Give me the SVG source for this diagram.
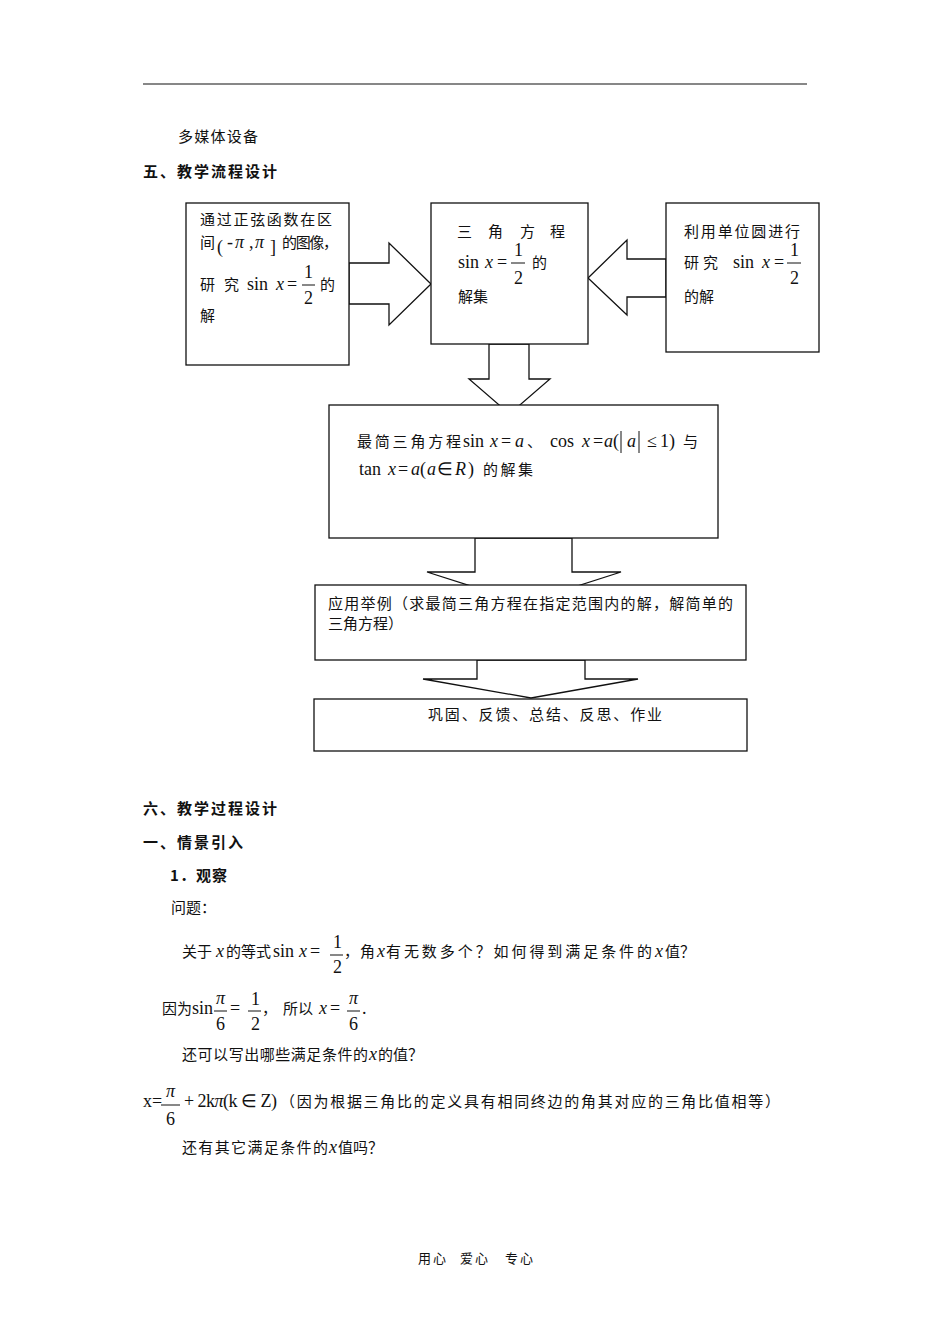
<svg xmlns="http://www.w3.org/2000/svg" width="950" height="1344" viewBox="0 0 950 1344">
<style>
.bg{fill:#fff}
.box{fill:#fff;stroke:#111;stroke-width:1.3}
.arrow{fill:#fff;stroke:#111;stroke-width:1.3;stroke-linejoin:miter}
.rule{stroke:#111;stroke-width:1.2}
.bar{stroke:#111;stroke-width:1}
text{fill:#111}
.cj{font-family:"Noto Sans CJK SC","Liberation Serif",sans-serif;font-size:15px}
.hd{font-family:"Noto Sans CJK SC",sans-serif;font-size:15px;font-weight:bold}
.m{font-family:"Liberation Serif","Times New Roman",serif;font-size:18px}
.i{font-style:italic}
.ft{font-family:"Noto Sans CJK SC",sans-serif;font-size:13px}
</style>
<rect class="bg" x="0" y="0" width="950" height="1344"/>
<line class="rule" x1="143" y1="84" x2="807" y2="84"/>

<g id="header">
<text class="cj" x="178" y="142" textLength="80" lengthAdjust="spacing">多媒体设备</text>
<text class="hd" x="143" y="177" textLength="134" lengthAdjust="spacing">五、教学流程设计</text>
</g>

<g id="connectors">
<polygon class="arrow" points="349,263 389,263 389,243 431,284 389,325 389,304 349,304"/>
<polygon class="arrow" points="666,259 627,259 627,240 588,278 627,315 627,297 666,297"/>
<polygon class="arrow" points="489,344 489,379 469,379 509.5,414 550,379 529,379 529,344"/>
<polygon class="arrow" points="475,538 475,572 427,572 524,603 621,572 572,572 572,538"/>
<polygon class="arrow" points="477,660 477,679 423,679 531,698 638,679 585,679 585,660"/>
</g>

<g id="node-graph">
<rect class="box" x="186" y="203" width="163" height="162"/>
<text class="cj" x="200" y="225" textLength="132" lengthAdjust="spacing">通过正弦函数在区</text>
<text class="cj" x="200" y="248">间</text>
<text class="m" x="217" y="253" font-size="27">(</text>
<text class="m" x="227" y="248">-</text>
<text class="m i" x="235" y="248">π</text>
<text class="m" x="249" y="248">,</text>
<text class="m i" x="255" y="248">π</text>
<text class="m" x="270" y="253" font-size="27">]</text>
<text class="cj" x="282" y="248" textLength="56" lengthAdjust="spacing">的图像，</text>
<text class="cj" x="200" y="290">研</text>
<text class="cj" x="224" y="290">究</text>
<text class="m" x="247" y="290">sin</text>
<text class="m i" x="276" y="290">x</text>
<text class="m" x="287" y="290">=</text>
<text class="m" x="304" y="278">1</text>
<line class="bar" x1="302" y1="285" x2="315" y2="285"/>
<text class="m" x="304" y="304">2</text>
<text class="cj" x="320" y="290">的</text>
<text class="cj" x="200" y="321">解</text>
</g>

<g id="node-equation">
<rect class="box" x="431" y="203" width="157" height="141"/>
<text class="cj" x="457" y="237">三</text>
<text class="cj" x="488" y="237">角</text>
<text class="cj" x="520" y="237">方</text>
<text class="cj" x="550" y="237">程</text>
<text class="m" x="458" y="268">sin</text>
<text class="m i" x="485" y="268">x</text>
<text class="m" x="497" y="268">=</text>
<text class="m" x="514" y="256">1</text>
<line class="bar" x1="511" y1="263" x2="525" y2="263"/>
<text class="m" x="514" y="284">2</text>
<text class="cj" x="532" y="268">的</text>
<text class="cj" x="458" y="302">解集</text>
</g>

<g id="node-circle">
<rect class="box" x="666" y="203" width="153" height="149"/>
<text class="cj" x="684" y="237" textLength="116" lengthAdjust="spacing">利用单位圆进行</text>
<text class="cj" x="684" y="268">研</text>
<text class="cj" x="703" y="268">究</text>
<text class="m" x="733" y="268">sin</text>
<text class="m i" x="762" y="268">x</text>
<text class="m" x="774" y="268">=</text>
<text class="m" x="790" y="256">1</text>
<line class="bar" x1="787" y1="263" x2="801" y2="263"/>
<text class="m" x="790" y="284">2</text>
<text class="cj" x="684" y="302">的解</text>
</g>

<g id="node-simplest">
<rect class="box" x="329" y="405" width="389" height="133"/>
<text class="cj" x="357" y="447" textLength="104" lengthAdjust="spacing">最简三角方程</text>
<text class="m" x="463" y="447">sin</text>
<text class="m i" x="490" y="447">x</text>
<text class="m" x="501" y="447">=</text>
<text class="m i" x="515" y="447">a</text>
<text class="cj" x="527" y="447">、</text>
<text class="m" x="550" y="447">cos</text>
<text class="m i" x="582" y="447">x</text>
<text class="m" x="593" y="447">=</text>
<text class="m i" x="604" y="447">a</text>
<text class="m" x="613" y="447">(</text>
<line class="bar" x1="621" y1="431" x2="621" y2="453"/>
<text class="m i" x="627" y="447">a</text>
<line class="bar" x1="639" y1="431" x2="639" y2="453"/>
<text class="m" x="647" y="447">≤</text>
<text class="m" x="660" y="447">1</text>
<text class="m" x="669" y="447">)</text>
<text class="cj" x="683" y="447">与</text>
<text class="m" x="359" y="475">tan</text>
<text class="m i" x="388" y="475">x</text>
<text class="m" x="398" y="475">=</text>
<text class="m i" x="411" y="475">a</text>
<text class="m" x="420" y="475">(</text>
<text class="m i" x="427" y="475">a</text>
<text class="m" x="437" y="475">∈</text>
<text class="m i" x="455" y="475">R</text>
<text class="m" x="468" y="475">)</text>
<text class="cj" x="483" y="475" textLength="50" lengthAdjust="spacing">的解集</text>
</g>

<g id="node-examples">
<rect class="box" x="315" y="585" width="431" height="75"/>
<text class="cj" x="328" y="609" textLength="405" lengthAdjust="spacing">应用举例（求最简三角方程在指定范围内的解，解简单的</text>
<text class="cj" x="328" y="629">三角方程）</text>
</g>

<g id="node-review">
<rect class="box" x="314" y="699" width="433" height="52"/>
<text class="cj" x="428" y="720" textLength="234" lengthAdjust="spacing">巩固、反馈、总结、反思、作业</text>
</g>

<g id="body">
<text class="hd" x="143" y="814" textLength="134" lengthAdjust="spacing">六、教学过程设计</text>
<text class="hd" x="143" y="848" textLength="100" lengthAdjust="spacing">一、情景引入</text>
<text class="hd" x="170" y="881" textLength="57" lengthAdjust="spacing">1．观察</text>
<text class="cj" x="171" y="913">问题：</text>

<text class="cj" x="182" y="957">关于</text>
<text class="m i" x="216" y="957">x</text>
<text class="cj" x="226" y="957">的等式</text>
<text class="m" x="273" y="957">sin</text>
<text class="m i" x="299" y="957">x</text>
<text class="m" x="310" y="957">=</text>
<text class="m" x="333" y="948">1</text>
<line class="bar" x1="330" y1="955" x2="343" y2="955"/>
<text class="m" x="333" y="973">2</text>
<text class="cj" x="344" y="957">，</text>
<text class="cj" x="360" y="957">角</text>
<text class="m i" x="377" y="957">x</text>
<text class="cj" x="386" y="957" textLength="266" lengthAdjust="spacing">有无数多个？如何得到满足条件的</text>
<text class="m i" x="655" y="957">x</text>
<text class="cj" x="665" y="957">值？</text>

<text class="cj" x="162" y="1014">因为</text>
<text class="m" x="192" y="1014">sin</text>
<text class="m i" x="216" y="1004">π</text>
<line class="bar" x1="214" y1="1011" x2="227" y2="1011"/>
<text class="m" x="216" y="1030">6</text>
<text class="m" x="230" y="1014">=</text>
<text class="m" x="251" y="1005">1</text>
<line class="bar" x1="248" y1="1011" x2="261" y2="1011"/>
<text class="m" x="251" y="1030">2</text>
<text class="cj" x="262" y="1014">，</text>
<text class="cj" x="283" y="1014">所以</text>
<text class="m i" x="319" y="1014">x</text>
<text class="m" x="330" y="1014">=</text>
<text class="m i" x="349" y="1004">π</text>
<line class="bar" x1="347" y1="1011" x2="360" y2="1011"/>
<text class="m" x="349" y="1030">6</text>
<text class="m" x="362" y="1014">.</text>

<text class="cj" x="182" y="1060" textLength="186" lengthAdjust="spacing">还可以写出哪些满足条件的</text>
<text class="m i" x="369" y="1060">x</text>
<text class="cj" x="378" y="1060">的值？</text>

<text class="m" x="143" y="1107" font-size="16">x=</text>
<text class="m i" x="166" y="1097">π</text>
<line class="bar" x1="161" y1="1105" x2="180" y2="1105"/>
<text class="m" x="166" y="1125">6</text>
<text class="m" x="184" y="1107" textLength="93" lengthAdjust="spacing">+ 2k<tspan class="i">π</tspan>(k ∈ Z)</text>
<text class="cj" x="280" y="1107" textLength="500" lengthAdjust="spacing">（因为根据三角比的定义具有相同终边的角其对应的三角比值相等）</text>

<text class="cj" x="182" y="1153" textLength="146" lengthAdjust="spacing">还有其它满足条件的</text>
<text class="m i" x="329" y="1153">x</text>
<text class="cj" x="338" y="1153">值吗？</text>
</g>

<g id="footer">
<text class="ft" x="418" y="1263" textLength="28" lengthAdjust="spacing">用心</text>
<text class="ft" x="460" y="1263" textLength="28" lengthAdjust="spacing">爱心</text>
<text class="ft" x="505" y="1263" textLength="28" lengthAdjust="spacing">专心</text>
</g>
</svg>
